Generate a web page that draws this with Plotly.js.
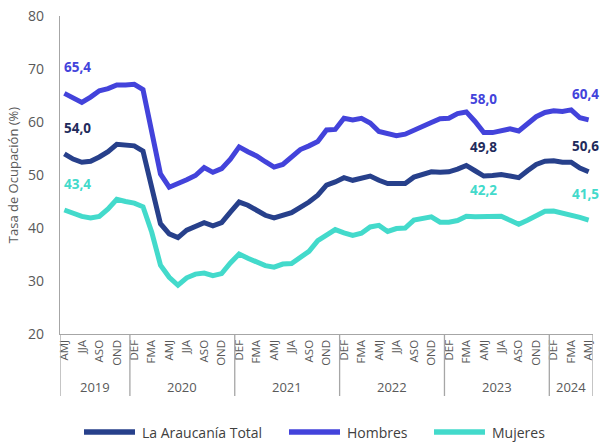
<!DOCTYPE html>
<html><head><meta charset="utf-8">
<script src="https://cdn.plot.ly/plotly-3.0.1.min.js"></script>
<style>html,body{margin:0;padding:0;background:#fff}#chart{width:603px;height:443px}</style>
</head><body><div id="chart"></div>
<script>
// Moving quarters, AMJ 2019 .. AMJ 2024
const periods = [
  "AMJ","MJJ","JJA","JAS","ASO","SON","OND","NDE",
  "DEF","EFM","FMA","MAM","AMJ","MJJ","JJA","JAS","ASO","SON","OND","NDE",
  "DEF","EFM","FMA","MAM","AMJ","MJJ","JJA","JAS","ASO","SON","OND","NDE",
  "DEF","EFM","FMA","MAM","AMJ","MJJ","JJA","JAS","ASO","SON","OND","NDE",
  "DEF","EFM","FMA","MAM","AMJ","MJJ","JJA","JAS","ASO","SON","OND","NDE",
  "DEF","EFM","FMA","MAM","AMJ"
];
const yearLabels = ["2019","2020","2021","2022","2023","2024"];
const yearSizes = [8,12,12,12,12,5];

const total = [
  54.0,53.0,52.4,52.6,53.4,54.4,55.8,55.7,
  55.5,54.5,48.1,40.8,38.9,38.2,39.6,40.4,41.0,40.4,41.0,43.0,
  44.9,44.3,43.4,42.4,41.9,42.4,42.9,43.9,44.9,46.2,48.1,48.7,
  49.5,49.0,49.5,49.8,49.0,48.4,48.4,48.4,49.6,50.1,50.6,50.5,
  50.6,51.1,51.8,50.8,49.8,49.9,50.1,49.8,49.5,50.8,52.0,52.6,
  52.7,52.4,52.4,51.3,50.6
];
const hombres = [
  65.4,64.6,63.7,64.7,65.9,66.3,67.0,67.0,
  67.1,66.1,57.8,50.2,47.7,48.3,49.1,49.9,51.4,50.5,51.2,53.0,
  55.3,54.4,53.6,52.5,51.5,52.0,53.3,54.8,55.5,56.3,58.5,58.6,
  60.7,60.4,60.7,59.8,58.2,57.7,57.4,57.7,58.5,59.2,59.9,60.6,
  60.7,61.6,61.9,60.1,58.0,58.0,58.3,58.7,58.3,59.6,61.0,61.8,
  62.1,62.0,62.3,60.8,60.4
];
const mujeres = [
  43.4,42.7,42.2,41.9,42.2,43.6,45.4,45.0,
  44.7,44.0,39.2,33.0,30.7,29.2,30.6,31.3,31.5,31.0,31.4,33.4,
  35.1,34.3,33.6,32.9,32.6,33.2,33.3,34.4,35.6,37.6,38.6,39.7,
  39.1,38.6,39.0,40.2,40.5,39.35,39.9,40.0,41.5,41.75,42.1,41.1,
  41.1,41.4,42.2,42.1,42.2,42.1,42.2,41.45,40.7,41.45,42.35,43.15,
  43.2,42.85,42.5,42.0,41.5
];
const labelIndices = [0,48,60];
const seriesNames = ["La Araucanía Total","Hombres","Mujeres"];

const colors = ["#27408B", "#4343DB", "#43DACB"];
const labelColors = ["#1F2B5C", "#4343DB", "#43DACB"];
const seriesValues = [total, hombres, mujeres];

const W = 603, H = 443;
const M = {l: 60, r: 10, t: 16, b: 109};
const PW = W - M.l - M.r, PH = H - M.t - M.b;
const px2x = px => (px - M.l) / PW;
const px2y = py => (H - M.b - py) / PH;

const xs = periods.map((_, i) => i);
const data = seriesValues.map((ys, k) => ({
  type: "scatter", mode: "lines", name: seriesNames[k], x: xs, y: ys,
  line: {color: colors[k], width: 5}, hoverinfo: "skip", showlegend: false
}));

const fmt = v => v.toFixed(1).replace(".", ",");
const annotations = [];
const shapes = [];
const lastIdx = periods.length - 1;
seriesValues.forEach((ys, k) => {
  labelIndices.forEach(i => {
    let shift = 26;
    if (k === 1 && i === 48) shift = 34;
    if (k === 0 && i === 48) shift = 29;
    annotations.push({
      x: i, y: ys[i], xref: "x", yref: "y", text: "<b>" + fmt(ys[i]) + "</b>",
      showarrow: false, yshift: shift, xshift: i === 0 ? -2 : (i === lastIdx ? -3 : 0),
      xanchor: i === 0 ? "left" : "center", yanchor: "middle",
      font: {family: "Open Sans, sans-serif", size: 13.5, color: labelColors[k]}
    });
  });
});

// year group labels and separators
const axisGray = "#A6A6A6";
let start = 0;
const sepDepth = px2y(396);
shapes.push({type:"line", xref:"x", yref:"paper", x0:-0.5, x1:-0.5, y0:0, y1:sepDepth, line:{color:axisGray, width:1.3}});
yearLabels.forEach((yl, g) => {
  const end = start + yearSizes[g];
  annotations.push({
    x: (start + end - 1) / 2, y: px2y(387), xref: "x", yref: "paper", text: yl,
    showarrow: false, xanchor: "center", yanchor: "middle",
    font: {family: "Open Sans, sans-serif", size: 13, color: "#595959"}
  });
  shapes.push({type:"line", xref:"x", yref:"paper", x0:end - 0.5, x1:end - 0.5, y0:0, y1:sepDepth, line:{color:axisGray, width:1.3}});
  start = end;
});

// legend (drawn below the plot)
const legendStarts = [82, 287, 432];
const legendY = px2y(432);
seriesNames.forEach((nm, k) => {
  const x0 = legendStarts[k];
  shapes.push({type:"line", xref:"paper", yref:"paper", x0: px2x(x0 + 2), x1: px2x(x0 + 53),
    y0: legendY, y1: legendY, line: {color: colors[k], width: 5.5}});
  annotations.push({
    x: px2x(x0 + 58), y: legendY, xref: "paper", yref: "paper", text: nm,
    showarrow: false, xanchor: "left", yanchor: "middle",
    font: {family: "Open Sans, sans-serif", size: 14, color: "#404040"}
  });
});

const tickvals = xs.filter(i => i % 2 === 0);
const layout = {
  width: W, height: H,
  margin: {l: M.l, r: M.r, t: M.t, b: M.b, autoexpand: false},
  paper_bgcolor: "#fff", plot_bgcolor: "#fff",
  font: {family: "Open Sans, sans-serif", color: "#595959"},
  showlegend: false,
  xaxis: {
    range: [-0.5, 60.5], tickmode: "array", tickvals,
    ticktext: tickvals.map(i => periods[i]), tickangle: -90,
    tickfont: {size: 11.5, color: "#595959"},
    showgrid: false, zeroline: false, showline: true, linecolor: axisGray, linewidth: 1.3,
    ticks: "", fixedrange: true, automargin: false
  },
  yaxis: {
    range: [20, 80], dtick: 10, tick0: 20,
    tickfont: {size: 14, color: "#595959"},
    showgrid: false, zeroline: false, showline: true, linecolor: axisGray, linewidth: 1.3,
    ticks: "", ticklabelstandoff: 12, automargin: false,
    title: {text: "Tasa de Ocupación (%)", font: {size: 13, color: "#595959"}, standoff: 6},
    fixedrange: true
  },
  annotations, shapes
};
Plotly.newPlot("chart", data, layout, {displayModeBar: false, staticPlot: true});
</script>
</body></html>
